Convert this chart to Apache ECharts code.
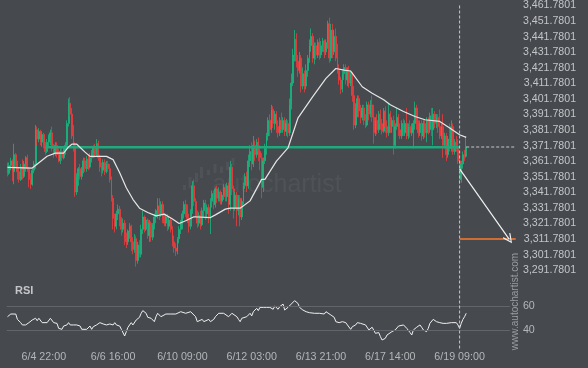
<!DOCTYPE html>
<html><head><meta charset="utf-8">
<script src="https://cdn.jsdelivr.net/npm/echarts@6/dist/echarts.min.js"></script>
<style>html,body{margin:0;padding:0;background:#46494e;}#c{width:588px;height:368px;}</style>
</head><body><div id="c"></div>
<script>
const opens = [3360,3354,3359,3362,3355,3366,3360,3355,3350,3358,
3352,3360,3364,3357,3350,3347,3356,3360,3382,3376,
3381,3374,3379,3372,3368,3374,3378,3380,3370,3367,
3372,3366,3362,3368,3364,3369,3372,3386,3399,3392,
3378,3372,3342,3352,3357,3352,3356,3362,3357,3363,
3358,3364,3367,3371,3366,3373,3364,3358,3356,3361,
3355,3360,3357,3350,3338,3325,3320,3328,3331,3324,
3318,3322,3312,3310,3317,3320,3310,3305,3312,3298,
3308,3302,3318,3326,3318,3324,3314,3322,3313,3321,
3326,3330,3333,3328,3334,3325,3322,3326,3320,3324,
3318,3310,3306,3304,3312,3318,3322,3328,3334,3330,
3325,3320,3330,3346,3336,3328,3322,3327,3321,3330,
3335,3328,3332,3326,3336,3341,3334,3344,3338,3342,
3336,3340,3345,3339,3346,3334,3358,3344,3332,3340,
3330,3338,3326,3336,3346,3352,3346,3362,3368,3360,
3372,3366,3374,3368,3364,3345,3362,3370,3378,3388,
3382,3395,3386,3392,3384,3380,3388,3382,3388,3381,
3386,3380,3398,3412,3430,3440,3426,3420,3428,3410,
3418,3410,3420,3428,3436,3442,3428,3436,3430,3438,
3430,3436,3439,3432,3438,3450,3428,3446,3432,3442,
3428,3420,3414,3408,3418,3422,3414,3420,3412,3418,
3404,3385,3396,3402,3394,3390,3396,3388,3385,3398,
3392,3398,3390,3380,3388,3382,3392,3386,3381,3394,
3384,3380,3392,3384,3388,3372,3384,3390,3382,3378,
3386,3380,3386,3378,3384,3380,3380,3386,3396,3386,
3380,3386,3378,3386,3380,3388,3382,3391,3382,3392,
3386,3390,3384,3378,3384,3372,3378,3366,3376,3370,
3384,3368,3374,3370,3362,3350,3360,3366,3365];
const closes = [3354,3359,3362,3355,3366,3360,3355,3350,3358,3352,
3360,3364,3357,3350,3347,3356,3360,3382,3376,3381,
3374,3379,3372,3368,3374,3378,3380,3370,3367,3372,
3366,3362,3368,3364,3369,3372,3386,3399,3392,3378,
3372,3342,3352,3357,3352,3356,3362,3357,3363,3358,
3364,3367,3371,3366,3373,3364,3358,3356,3361,3355,
3360,3357,3350,3338,3325,3320,3328,3331,3324,3318,
3322,3312,3310,3317,3320,3310,3305,3312,3298,3308,
3302,3318,3326,3318,3324,3314,3322,3313,3321,3326,
3330,3333,3328,3334,3325,3322,3326,3320,3324,3318,
3310,3306,3304,3312,3318,3322,3328,3334,3330,3325,
3320,3330,3346,3336,3328,3322,3327,3321,3330,3335,
3328,3332,3326,3336,3341,3334,3344,3338,3342,3336,
3340,3345,3339,3346,3334,3358,3344,3332,3340,3330,
3338,3326,3336,3346,3352,3346,3362,3368,3360,3372,
3366,3374,3368,3364,3345,3362,3370,3378,3388,3382,
3395,3386,3392,3384,3380,3388,3382,3388,3381,3386,
3380,3398,3412,3430,3440,3426,3420,3428,3410,3418,
3410,3420,3428,3436,3442,3428,3436,3430,3438,3430,
3436,3439,3432,3438,3450,3428,3446,3432,3442,3428,
3420,3414,3408,3418,3422,3414,3420,3412,3418,3404,
3385,3396,3402,3394,3390,3396,3388,3385,3398,3392,
3398,3390,3380,3388,3382,3392,3386,3381,3394,3384,
3380,3392,3384,3388,3372,3384,3390,3382,3378,3386,
3380,3386,3378,3384,3380,3383,3386,3396,3386,3380,
3386,3378,3386,3380,3388,3382,3391,3382,3392,3386,
3390,3384,3378,3384,3372,3378,3366,3376,3370,3384,
3368,3374,3370,3362,3350,3360,3366,3365,3371];
const lows = [3352,3353,3356,3349,3347,3358,3350,3348,3349,3350,
3351,3355,3355,3345,3344,3346,3354,3357,3372,3374,
3372,3371,3370,3366,3367,3371,3372,3368,3364,3365,
3364,3361,3360,3362,3363,3366,3369,3384,3390,3376,
3368,3339,3340,3346,3350,3350,3354,3355,3355,3356,
3357,3361,3364,3364,3365,3362,3355,3352,3354,3353,
3354,3355,3348,3336,3318,3316,3318,3324,3320,3314,
3316,3308,3306,3308,3312,3304,3302,3303,3294,3296,
3300,3300,3315,3316,3317,3312,3310,3310,3311,3318,
3322,3325,3324,3326,3322,3320,3320,3317,3318,3316,
3307,3303,3301,3302,3309,3315,3318,3325,3326,3322,
3316,3318,3328,3333,3326,3319,3320,3318,3320,3326,
3324,3325,3322,3315,3332,3331,3332,3335,3336,3334,
3334,3337,3336,3336,3328,3330,3340,3325,3330,3320,
3327,3320,3324,3334,3344,3342,3344,3358,3356,3358,
3362,3364,3362,3356,3338,3342,3360,3366,3375,3378,
3380,3383,3382,3380,3377,3378,3380,3380,3378,3378,
3377,3378,3395,3410,3426,3422,3416,3418,3406,3408,
3406,3408,3416,3425,3432,3425,3424,3427,3428,3427,
3428,3432,3428,3430,3434,3425,3426,3428,3430,3426,
3418,3411,3405,3406,3414,3411,3410,3409,3410,3400,
3382,3383,3390,3390,3386,3388,3385,3383,3384,3388,
3390,3387,3373,3378,3379,3380,3382,3379,3380,3380,
3377,3378,3380,3380,3366,3370,3382,3378,3376,3376,
3378,3378,3376,3376,3377,3378,3370,3382,3382,3377,
3378,3375,3376,3377,3374,3379,3380,3378,3372,3383,
3383,3380,3376,3376,3364,3370,3362,3364,3368,3368,
3366,3366,3368,3360,3347,3348,3357,3362,3364];
const highs = [3361,3361,3364,3363,3373,3367,3362,3358,3360,3363,
3362,3365,3366,3358,3354,3357,3362,3385,3384,3383,
3382,3381,3380,3374,3376,3379,3382,3384,3373,3374,
3374,3370,3370,3371,3371,3374,3388,3402,3403,3396,
3385,3374,3354,3358,3360,3358,3364,3364,3365,3366,
3367,3369,3372,3373,3376,3375,3366,3361,3363,3363,
3362,3362,3360,3352,3340,3328,3330,3334,3333,3326,
3325,3324,3316,3318,3322,3321,3313,3315,3314,3310,
3311,3321,3330,3327,3326,3325,3324,3323,3322,3328,
3331,3338,3338,3336,3336,3328,3328,3328,3326,3326,
3320,3314,3309,3313,3320,3324,3330,3336,3337,3334,
3328,3331,3349,3350,3338,3330,3329,3330,3332,3337,
3337,3334,3334,3338,3343,3343,3345,3346,3345,3343,
3342,3347,3347,3348,3348,3362,3360,3346,3342,3342,
3340,3340,3338,3348,3354,3355,3366,3372,3374,3378,
3375,3376,3377,3372,3367,3364,3373,3380,3390,3392,
3398,3397,3394,3394,3388,3390,3393,3390,3390,3389,
3388,3402,3418,3434,3446,3444,3430,3432,3430,3422,
3420,3424,3430,3440,3447,3444,3438,3438,3440,3441,
3439,3441,3440,3440,3452,3454,3450,3450,3446,3447,
3437,3424,3416,3420,3424,3424,3422,3423,3420,3419,
3410,3399,3404,3404,3398,3398,3398,3392,3400,3400,
3401,3404,3398,3390,3392,3394,3395,3389,3396,3397,
3388,3399,3394,3390,3391,3386,3396,3392,3386,3388,
3389,3388,3396,3386,3388,3386,3388,3400,3398,3388,
3388,3388,3388,3388,3390,3390,3393,3396,3396,3394,
3392,3392,3395,3386,3392,3380,3380,3378,3386,3388,
3386,3376,3378,3376,3366,3362,3368,3369,3378];
// moving average: [bar index, value]
const maPoints = [[0,3357.8],[15,3357.4],[24,3365],[29,3367],[34,3367],[37,3371],[39,3372.7],[42,3372.7],[47,3367.6],[50,3364.9],[60,3364.9],[64,3362.8],[68,3354.3],[72,3344.7],[76,3337.3],[80,3331.6],[85,3328.8],[90,3326.7],[95,3327.8],[100,3324.6],[104,3321.8],[108,3323.5],[113,3326.1],[123,3325.6],[126,3327.3],[132,3331],[135,3331.6],[141,3331.6],[147,3336.3],[154,3350.1],[156,3350.1],[163,3361.8],[170,3370.3],[176,3389.4],[185,3403.3],[193,3415],[199,3421.3],[204,3420.3],[208,3419.7],[215,3409.6],[221,3405.4],[228,3401.2],[232,3398],[240,3393.7],[247,3390.5],[253,3388.4],[262,3387.3],[268,3383.1],[274,3378.8],[278,3377.1]];
// RSI: [bar index, value]
const rsiPoints = [[0,51.2],[2,53.4],[3,51.8],[5,53.4],[6,49],[8,46.3],[9,44.4],[10,45.7],[11,44.4],[13,46.3],[15,48.5],[16,47.1],[17,49.9],[18,47.9],[19,49.9],[21,46.3],[22,47.9],[24,46.3],[26,49.9],[27,49],[28,46.3],[30,45.7],[31,41.6],[33,40.8],[34,43.5],[36,44.4],[37,46.3],[38,44.4],[40,44.4],[42,44.4],[44,43.5],[45,40.8],[46,40.8],[48,40.8],[49,41.6],[50,43.5],[51,40.8],[52,43],[54,44.4],[55,45.7],[56,46.3],[58,45.2],[60,44.4],[62,45.2],[64,44.4],[65,46.3],[66,44.4],[68,43.5],[69,40.8],[71,35.3],[72,38.9],[73,42.5],[75,46.3],[76,44.4],[78,48.5],[80,50.7],[81,54],[82,56.2],[84,54],[85,50.7],[87,49.9],[88,49],[89,47.1],[90,51.2],[91,54],[93,51.2],[94,49.9],[96,53.4],[97,54.5],[99,53.4],[100,54.5],[102,53.4],[103,54],[105,55.3],[106,54.5],[108,54],[109,55.3],[111,55.3],[112,54.5],[114,51.2],[115,47.1],[116,47.1],[118,49],[119,47.1],[120,48.5],[122,49],[123,47.1],[125,49],[126,51.2],[128,54],[129,54],[131,54],[132,54.5],[134,51.2],[135,51.2],[136,54],[137,54.5],[139,51.2],[140,49],[141,47.1],[142,49.9],[143,49],[145,51.2],[147,54],[148,51.8],[149,55.3],[151,58.1],[152,56.2],[153,58.9],[155,58.9],[157,58.9],[159,58.9],[161,57.3],[162,60],[164,57.3],[165,59.5],[167,61.6],[168,56.7],[170,58.9],[171,60],[174,64.4],[176,62.2],[177,58.9],[179,56.7],[181,55.3],[183,54.5],[184,55.3],[186,54],[187,55.3],[189,54],[190,55.3],[192,53.4],[193,55.3],[194,54],[196,52.6],[198,50.7],[199,47.1],[201,46.3],[203,47.1],[205,46.3],[206,44.4],[208,40.8],[209,43],[211,44.4],[212,46.3],[214,45.7],[215,44.4],[217,44.4],[218,43],[219,40.3],[221,42.5],[222,41.6],[223,37.5],[225,38.1],[226,34.8],[227,32],[229,33.4],[230,36.1],[231,37.5],[233,38.9],[234,38.9],[235,40.3],[237,43.5],[238,44.4],[240,44.4],[241,43],[242,41.6],[244,38.1],[245,36.1],[246,40.3],[248,42.5],[250,44.4],[251,42.5],[252,40.3],[254,38.9],[255,41.6],[256,45.7],[258,49],[259,48.5],[260,47.1],[262,46.3],[263,44.9],[264,45.7],[266,45.7],[267,47.1],[269,46.3],[270,45.2],[272,46.3],[273,44.4],[274,41.6],[275,45.7],[276,49],[277,51.2],[278,54]];
const tickIndex = [22,64,106,148,190,232,274];
const tickLabels = ['6/4 22:00','6/6 16:00','6/10 09:00','6/12 03:00','6/13 21:00','6/17 14:00','6/19 09:00'];
const priceMin = 3291.7801, priceMax = 3461.7801, priceStep = 10;
const rsiLevels = [60, 40];
const supportLevel = 3370.7, supportFrom = 23, supportTo = 274;
const breakIndex = 274, breakPrice = 3356.8;
const targetPrice = 3311.7801, targetIndex = 304, targetEnd = 308;
const lastIndex = 278, lastPrice = 3370.9;
const slotCount = 309, rsiSlotCount = 305;

const UP = '#17b77e', DOWN = '#f23b3b';
const band = 1.65, leftPx = 6.675;
const cats = Array.from({length: slotCount}, (_, i) => String(i));
const candleData = opens.map((o, i) => [o, closes[i], lows[i], highs[i]]);
const FONT = '"Liberation Sans", Arial, sans-serif';
function fmtPrice(v) {
  const snapped = priceMin + Math.round((v - priceMin) / priceStep) * priceStep;
  const s = snapped.toFixed(4).split('.');
  return s[0].replace(/\B(?=(\d{3})+(?!\d))/g, ',') + '.' + s[1];
}
const chevron = 'path://M5,0 L10,9 L9,10 L5,2.4 L1,10 L0,9 Z';
const logoBars = [[183,185,3,5],[188.5,177,3,11],[195,173,3,9],[200,167,3,11],[207,170,3,5],[213.5,164,3,9],[220,166.5,3,6.5],[226,162,3,8],[231.5,158,3,7.5]];

const chart = echarts.init(document.getElementById('c'));
chart.setOption({
  backgroundColor: '#46494e',
  animation: false,
  textStyle: {fontFamily: FONT},
  grid: [
    {left: leftPx, top: 3.5, width: band * slotCount, height: 266.7},
    {left: leftPx, top: 287.8, width: band * rsiSlotCount, height: 60.7},
    {left: leftPx, top: 4, width: band * slotCount, height: 344.5}
  ],
  xAxis: [
    {type: 'category', gridIndex: 0, data: cats, show: false},
    {type: 'category', gridIndex: 1, data: cats.slice(0, rsiSlotCount),
     axisLine: {show: false}, axisTick: {show: false}, splitLine: {show: false},
     axisLabel: {interval: (idx) => tickIndex.includes(idx),
       formatter: (v, idx) => { const k = tickIndex.indexOf(idx); return k >= 0 ? tickLabels[k] : ''; },
       color: '#b4b7ba', fontSize: 10.7, margin: 3, fontFamily: FONT}},
    {type: 'category', gridIndex: 2, data: cats, show: false}
  ],
  yAxis: [
    {type: 'value', gridIndex: 0, position: 'right', min: priceMin, max: priceMax, interval: priceStep,
     splitLine: {show: false}, axisLine: {show: false}, axisTick: {show: false},
     axisLabel: {formatter: fmtPrice, color: '#c3c5c8', fontSize: 10.6, align: 'right', margin: 59.5, fontFamily: FONT}},
    {type: 'value', gridIndex: 1, position: 'right', min: 25, max: 75, interval: 5,
     splitLine: {show: false}, axisLine: {show: false}, axisTick: {show: false},
     axisLabel: {formatter: (v) => rsiLevels.includes(Math.round(v)) && Math.abs(v - Math.round(v)) < 1e-6 ? String(Math.round(v)) : '',
       color: '#b4b7ba', fontSize: 10.7, align: 'left', margin: 13, fontFamily: FONT}},
    {type: 'value', gridIndex: 2, min: 0, max: 1, show: false}
  ],
  series: [
    {type: 'candlestick', xAxisIndex: 0, yAxisIndex: 0, data: candleData, barWidth: 1.4, z: 2,
     itemStyle: {color: UP, color0: DOWN, borderColor: UP, borderColor0: DOWN, borderWidth: 0.8}},
    {type: 'line', xAxisIndex: 0, yAxisIndex: 0, data: maPoints, symbol: 'none', z: 4,
     lineStyle: {color: '#e6e6e6', width: 1.2}},
    {type: 'line', xAxisIndex: 0, yAxisIndex: 0, data: [[supportFrom, supportLevel], [supportTo, supportLevel]],
     symbol: 'none', z: 3, lineStyle: {color: '#1fa97c', width: 2.5}},
    {type: 'line', xAxisIndex: 0, yAxisIndex: 0, data: [[lastIndex, lastPrice], [targetEnd, lastPrice]],
     symbol: 'none', z: 3, lineStyle: {color: '#c8c8c8', width: 1, type: [3, 2]}},
    {type: 'line', xAxisIndex: 0, yAxisIndex: 0, data: [[breakIndex, targetPrice], [targetEnd, targetPrice]],
     symbol: 'none', z: 3, lineStyle: {color: '#ff7a2a', width: 1.5},
     markLine: {silent: true, symbol: ['none', chevron], symbolSize: [9, 10], label: {show: false},
       lineStyle: {color: '#f2f2f2', width: 1.2, type: 'solid'},
       data: [[{coord: [breakIndex, breakPrice]}, {coord: [targetIndex, targetPrice]}]]}},
    {type: 'line', xAxisIndex: 1, yAxisIndex: 1, data: rsiPoints, symbol: 'none', z: 3,
     lineStyle: {color: '#f0f0f0', width: 1},
     markLine: {silent: true, symbol: 'none', label: {show: false},
       lineStyle: {color: '#62666b', width: 1, type: 'solid'},
       data: rsiLevels.map(v => ({yAxis: v}))}},
    {type: 'line', xAxisIndex: 2, yAxisIndex: 2, data: [[breakIndex, 0], [breakIndex, 1]], symbol: 'none', z: 5,
     lineStyle: {color: '#c8c8c8', width: 1, type: [3, 2]}}
  ],
  graphic: [
    ...logoBars.map(b => ({type: 'rect', z: -1, shape: {x: b[0], y: b[1], width: b[2], height: b[3]},
      style: {fill: 'rgba(255,255,255,0.05)'}})),
    {type: 'text', z: -1, x: 277, y: 185, style: {text: 'autochartist', fill: 'rgba(255,255,255,0.05)',
      font: '25px ' + FONT, textAlign: 'center', textVerticalAlign: 'middle'}},
    {type: 'text', x: 15, y: 291, style: {text: 'RSI', fill: '#c4c6c9', font: 'bold 11px ' + FONT,
      textAlign: 'left', textVerticalAlign: 'middle'}},
    {type: 'text', x: 515.5, y: 301.5, rotation: Math.PI / 2, style: {text: 'www.autochartist.com', fill: '#9a9da1',
      font: '10px ' + FONT, textAlign: 'center', textVerticalAlign: 'middle'}}
  ]
});
</script>
</body></html>
